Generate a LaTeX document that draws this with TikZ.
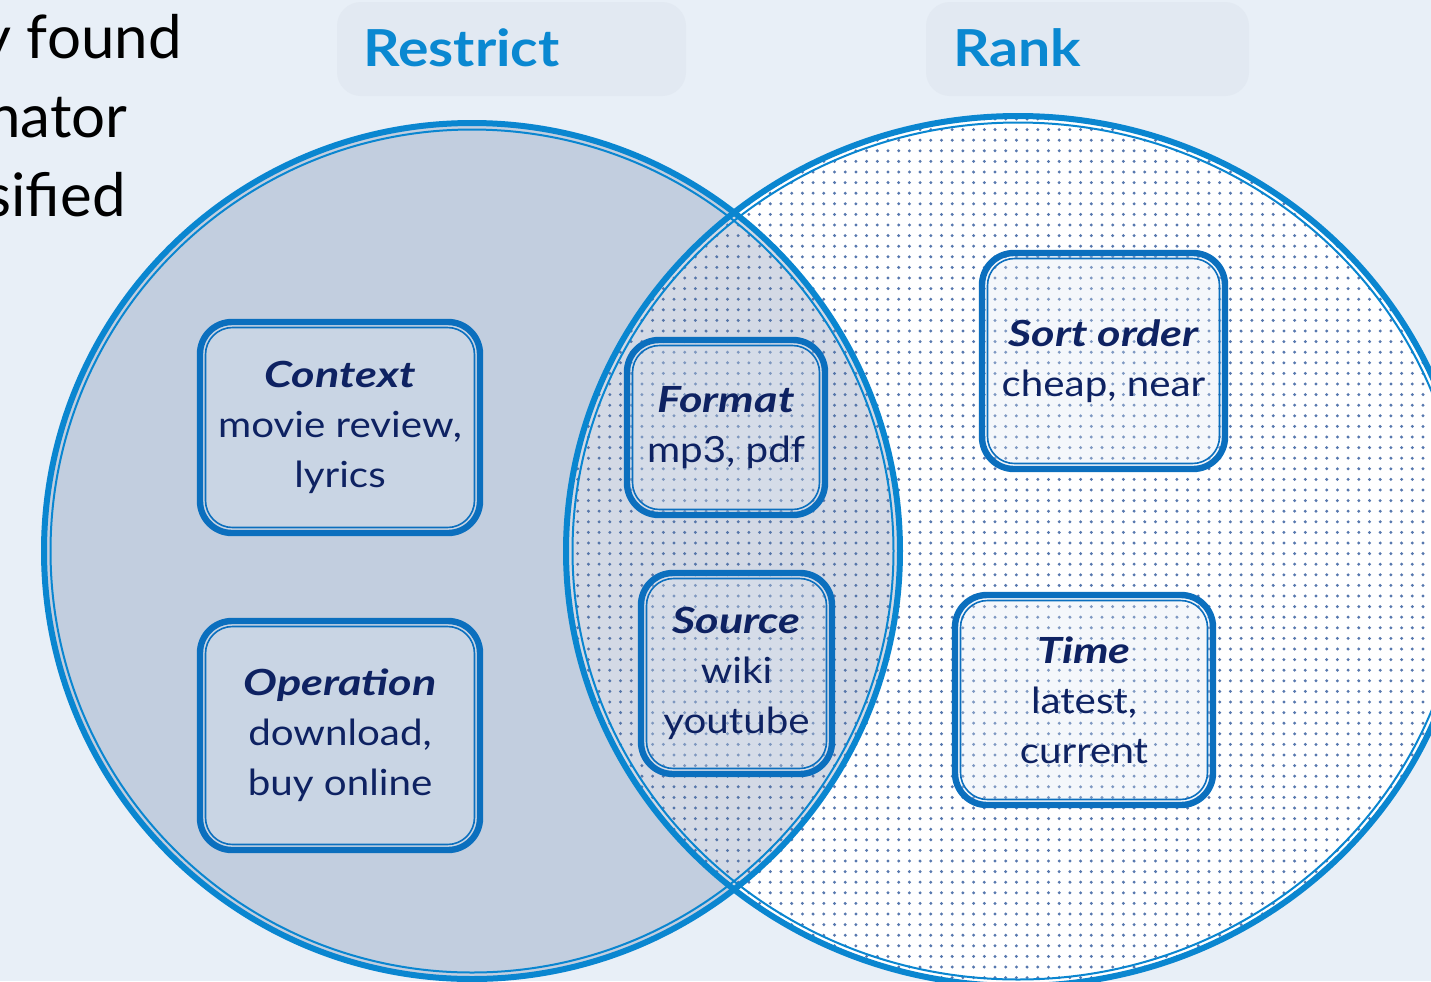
\documentclass[tikz,border=0pt]{standalone}
\usepackage{fontspec}
\setmainfont{Lato}[FakeStretch=1.12]
\newfontfamily\headfont{Lato}[FakeStretch=1.25]
\newfontfamily\leadfont{Lato}

\definecolor{bg}{HTML}{E8EFF7}
\definecolor{hdr}{HTML}{E2E9F2}
\definecolor{titleblue}{HTML}{0A88D1}
\definecolor{ring}{HTML}{0A86D0}
\definecolor{boxline}{HTML}{0B6FBE}
\definecolor{navy}{HTML}{0E2262}
\definecolor{leftfill}{HTML}{56709B}
\definecolor{dotc}{HTML}{5677AE}
\definecolor{boxfill}{HTML}{DCE6F2}

\tikzset{
  title/.style={text=titleblue, font=\fontsize{25.5}{30}\selectfont\bfseries, inner sep=0pt},
  lead/.style={text=black, font=\leadfont\fontsize{30}{36}\selectfont, inner sep=0pt},
  ringthick/.style={draw=ring, line width=3pt},
  ringthin/.style={draw=ring, line width=1pt},
  cbox/.style={draw=boxline, line width=3.2pt, rounded corners=16pt, outer sep=0pt,
    fill=boxfill, fill opacity=0.3, text opacity=1, text=navy, align=center,
    inner sep=0pt, font=\fontsize{18}{25}\selectfont},
  boxthin/.style={draw=boxline, line width=0.8pt, rounded corners=13.5pt}
}
% bold italic heading inside a box
\newcommand\boxhead[1]{{\headfont\bfseries\itshape #1}}
% inner thin outline of a double-ruled box
\newcommand\boxinset[1]{%
  \draw[boxthin] ([xshift=2.75pt,yshift=-2.75pt]#1.north west) rectangle
                 ([xshift=-2.75pt,yshift=2.75pt]#1.south east);}

\begin{document}
\begin{tikzpicture}[x=0.5pt,y=-0.5pt]
\useasboundingbox (0,0) rectangle (1431,981);
\fill[bg] (0,0) rectangle (1431,981);

% column headers
\fill[hdr, rounded corners=12pt] (337,2) rectangle (686,96);
\fill[hdr, rounded corners=12pt] (926,2) rectangle (1249,96);
\node[title, anchor=base west] (restrict) at (363,66) {Restrict};
\node[title, anchor=base west] (rank) at (953,66) {Rank};

% body text running in from the left
\node[lead, anchor=base east] (l1) at (182,58) {y found};
\node[lead, anchor=base east] (l2) at (128,137) {nator};
\node[lead, anchor=base east] (l3) at (126,216) {sified};

% right set: white with a dot screen, one row of dots per path
\fill[white] (1018,551) ellipse [x radius=226pt, y radius=217.5pt];
\begin{scope}
  \clip (1018,551) ellipse [x radius=226pt, y radius=217.5pt];
  \foreach \j in {0,...,81} {
    \fill[dotc] \foreach \i in {0,...,81}
      {({567+10.7*\i},{119+10.6*\j}) circle [radius=0.82pt]};
  }
\end{scope}
% left set: translucent grey-blue
\fill[leftfill, fill opacity=0.26] (472,551) circle [radius=214pt];

\draw[ringthick] (472,551) circle [radius=214pt];
\draw[ringthin] (472,551) circle [radius=210.75pt];
\draw[ringthick] (1018,551) ellipse [x radius=226pt, y radius=217.5pt];
\draw[ringthin] (1018,551) ellipse [x radius=222.75pt, y radius=214.25pt];

% category boxes
\node[cbox, minimum width=140pt, minimum height=105.5pt] (context) at (340,427.5)
  {\boxhead{Context}\\movie review,\\lyrics};
\node[cbox, minimum width=140pt, minimum height=114.5pt] (operation) at (340,735.5)
  {\boxhead{Operation}\\download,\\buy online};
\node[cbox, minimum width=99pt, minimum height=87.5pt] (format) at (726,427.5)
  {\boxhead{Format}\\mp3, pdf};
\node[cbox, minimum width=95.5pt, minimum height=100.5pt] (source) at (736.5,673.5)
  {\boxhead{Source}\\wiki\\youtube};
\node[cbox, minimum width=121.5pt, minimum height=108pt] (sort) at (1103.5,361)
  {\boxhead{Sort order}\\cheap, near};
\node[cbox, minimum width=129pt, minimum height=105pt] (time) at (1084,700)
  {\boxhead{Time}\\latest,\\current};

\boxinset{context}
\boxinset{operation}
\boxinset{format}
\boxinset{source}
\boxinset{sort}
\boxinset{time}
\end{tikzpicture}
\end{document}
